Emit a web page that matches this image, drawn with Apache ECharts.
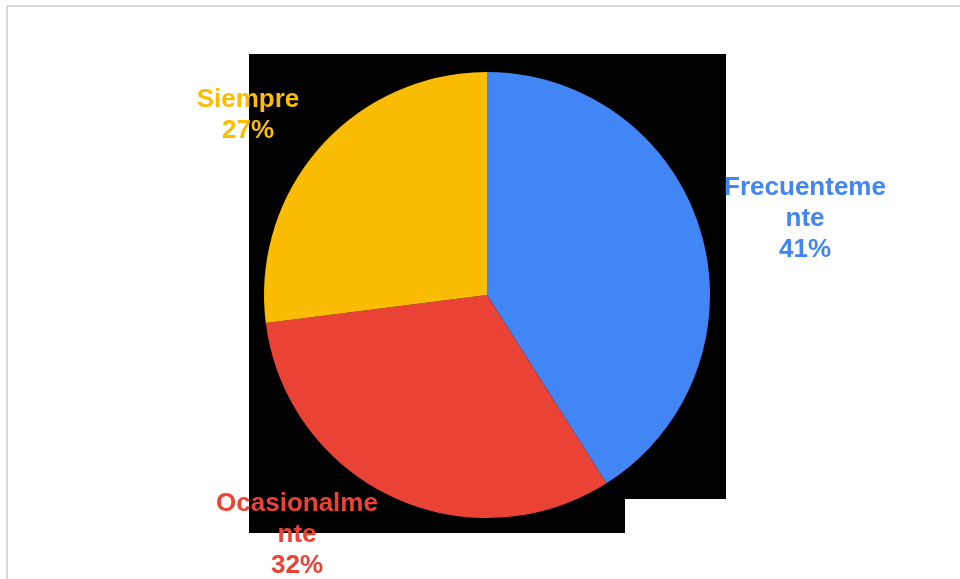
<!DOCTYPE html>
<html>
<head>
<meta charset="utf-8">
<script src="https://cdn.jsdelivr.net/npm/echarts@6/dist/echarts.min.js"></script>
<style>
  html, body { margin: 0; padding: 0; background: #ffffff; }
  #chart { width: 960px; height: 579px; }
</style>
</head>
<body>
<div id="chart"></div>
<script>
// Answer categories and their shares (percent)
const categories = ['Frecuentemente', 'Ocasionalmente', 'Siempre'];
const shares = [41, 32, 27];
const sliceColors = ['#4285F4', '#EA4335', '#FBBC04'];

// Where each category's label block is centred
const labelSpots = [[805, 219], [297, 535], [248, 115]];

const chart = echarts.init(document.getElementById('chart'), null, { renderer: 'canvas' });

const pieData = categories.map((name, i) => ({
  name: name,
  value: shares[i],
  itemStyle: { color: sliceColors[i] },
  label: { color: sliceColors[i] }
}));

chart.setOption({
  backgroundColor: '#ffffff',
  animation: false,
  graphic: [
    {
      type: 'rect', z: 0,
      shape: { x: 7, y: 6, width: 1000, height: 700 },
      style: { fill: 'none', stroke: '#d9d9d9', lineWidth: 2 }
    },
    {
      type: 'rect', z: 0,
      shape: { x: 249, y: 54, width: 477, height: 445 },
      style: { fill: '#000000' }
    },
    {
      type: 'rect', z: 0,
      shape: { x: 249, y: 499, width: 376, height: 34 },
      style: { fill: '#000000' }
    }
  ],
  series: [{
    type: 'pie',
    z: 2,
    center: [487, 295],
    radius: 223,
    startAngle: 90,
    clockwise: true,
    data: pieData,
    label: {
      show: true,
      position: 'outside',
      formatter: '{b}\n{d}%',
      fontFamily: '"Liberation Sans", Arial, sans-serif',
      fontWeight: 'bold',
      fontSize: 26,
      lineHeight: 31,
      width: 170,
      overflow: 'breakAll',
      align: 'center'
    },
    labelLine: { show: false },
    labelLayout: function (params) {
      const p = labelSpots[params.dataIndex];
      return { x: p[0], y: p[1], align: 'center', verticalAlign: 'middle' };
    },
    emphasis: { disabled: true }
  }]
});
</script>
</body>
</html>
